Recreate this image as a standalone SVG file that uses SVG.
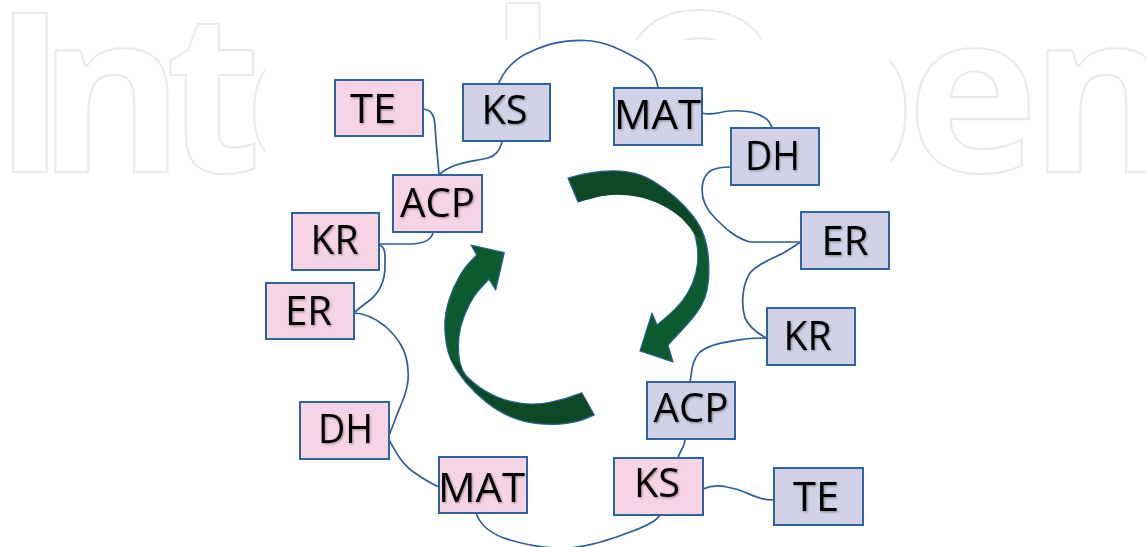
<svg xmlns="http://www.w3.org/2000/svg" width="1147" height="547" viewBox="0 0 1147 547">
  <defs>
    <style>
      .wm { font-family: "Open Sans", "DejaVu Sans", sans-serif; font-weight: 700; font-size: 222px; fill: none; stroke: #ebebeb; stroke-width: 2.2; }
      .box { stroke: #2c64a0; stroke-width: 2; }
      .pink { fill: #f6d4e4; }
      .lav { fill: #d1d2e8; }
      .lbl { font-family: "Open Sans", "Liberation Sans", sans-serif; font-size: 41px; fill: #000; text-anchor: middle; filter: url(#soft); }
      .link { fill: none; stroke: #2a5f9b; stroke-width: 1.7; stroke-linecap: round; stroke-linejoin: round; }
      .arrow { fill: #0b5b2f; stroke: #2a5f9b; stroke-width: 1.2; stroke-linejoin: round; }
      .arrow-back { fill: #0e4925; stroke: none; }
    </style>
    <filter id="soft" x="-10%" y="-20%" width="130%" height="150%">
      <feDropShadow dx="1" dy="1.2" stdDeviation="0.9" flood-color="#000" flood-opacity="0.35"/>
    </filter>
    <!-- the logotype only shows around the white panel -->
    <clipPath id="wm-left"><rect x="0" y="0" width="265" height="547"/></clipPath>
    <clipPath id="wm-top"><rect x="265" y="0" width="625" height="40"/></clipPath>
    <clipPath id="wm-right"><rect x="890" y="0" width="257" height="547"/></clipPath>
  </defs>

  <rect width="1147" height="547" fill="#ffffff"/>

  <!-- background logotype, outlined -->
  <g id="logotype">
    <text class="wm" clip-path="url(#wm-left)" x="-7 38 165 244" y="172">Inte</text>
    <text class="wm" clip-path="url(#wm-top)" x="375 489 611" y="172">chO</text>
    <text class="wm" clip-path="url(#wm-right)" x="775 907 1030" y="172">pen</text>
  </g>

  <!-- cycle arrows -->
  <g id="cycle-arrows">
    <g id="arrow-right">
      <path class="arrow" d="M568,178 L578,175.4 Q588,172.7 601.5,171.4 Q615,170 628.4,172 Q641.7,174 653.4,181.2 Q665,188.3 675.5,197.5 Q686,206.7 693.5,216.5 Q701,226.3 704.3,236.7 Q707.7,247 708.5,258.5 Q709.3,270 708.5,280 Q707.7,290 704.7,298.4 Q701.7,306.7 695,315 Q688.3,323.3 678.2,334.2 L668,345 L673,362 L640,351 L652,313 L657,325 L666,317.5 Q675,310 681.7,301.7 Q688.3,293.3 692.5,283.3 Q696.7,273.3 697.5,263.3 Q698.3,253.3 697,245 Q695.7,236.7 693.8,232.3 Q692,228 685.2,220.7 Q678.3,213.3 666.7,206.7 Q655,200 641.7,196.7 Q628.3,193.3 615,193.8 Q601.7,194.3 589.9,198.2 L578,202 Z"/>
      <path class="arrow-back" d="M569,178.6 L578,176.2 Q588,173.6 601.5,172.3 Q615,171 628.4,173 Q641.7,175 653,182 Q664.5,189 674.8,198 Q685,207 692.5,217 Q699.8,226.7 703.3,237.5 L697.2,236.5 L693.2,232.5 Q691.2,228.5 684.6,221.4 Q677.8,214.2 666.3,207.6 Q654.7,201 641.5,197.6 Q628.3,194.2 615,194.7 Q601.9,195.2 590.2,199 L578.6,201.2 Z"/>
    </g>
    <g id="arrow-left">
      <path class="arrow" d="M504.3,252.7 L471,245 L476.7,255 L470.9,260.9 Q465,266.7 459.2,276.7 Q453.3,286.7 449.5,298.4 Q445.7,310 445,320 Q444.3,330 446,341.7 Q447.7,353.3 452.3,362.5 Q457,371.7 466,382.5 Q475,393.3 486.7,402.5 Q498.3,411.7 511.7,417.2 Q525,422.7 540,423.9 Q555,425 566.7,423.4 Q578.3,421.7 586.3,418.4 L594.3,415 L581.7,392.7 L571.7,396.4 Q561.7,400 548.4,402.5 Q535,405 521.7,403.4 Q508.3,401.7 496.7,396.7 Q485,391.7 477,385.3 Q469,379 465.5,374.8 Q462,370.5 460.3,363.6 Q458.6,356.7 458.5,346.7 Q458.3,336.7 460.8,326.7 Q463.3,316.7 468.3,306.7 Q473.3,296.7 478.3,290.9 Q483.3,285 486.2,282.2 L489,279.3 L495.7,290 Z"/>
      <path class="arrow-back" d="M449.6,357.5 L453.2,362.5 Q458,371.5 466.7,382 Q475.6,392.4 487.2,401.5 Q498.8,410.7 512,416.2 Q525.2,421.8 540,422.9 Q555,424 566.5,422.4 Q578,420.8 585.8,417.6 L593.3,414.5 L582,393.6 L572,397.3 Q562,400.9 548.6,403.4 Q535,405.9 521.5,404.3 Q508,402.6 496.2,397.6 Q484.4,392.6 476.3,386 Q468.3,379.6 464.7,375.3 Q461.3,371 459.9,364.5 Z"/>
    </g>
  </g>

  <!-- connectors -->
  <g id="connectors">
    <path class="link" d="M498,86 C502,72 515,58 530,52 C545,45 560,40 585,40.5 C605,41 621,50 638,59 C651,66 656,74 658,88"/>
    <path class="link" d="M423,109 C431,110 434,114 435,125 C436,145 438,160 439,175"/>
    <path class="link" d="M502,142 C500,150 496,156 488,158 C475,161 462,162 451,167 C445,170 441,172 439,175"/>
    <path class="link" d="M433,232 C432,240 425,243 413,244 L380,244"/>
    <path class="link" d="M380,245 C386,248 385,256 385,266 C385,280 380,292 370,300 C362,306 357,310 354,313"/>
    <path class="link" d="M353,313 C362,313 372,316 385,326 C398,338 407,350 408,370 C410,390 400,405 395,420 C392,428 390,433 388,438"/>
    <path class="link" d="M388,438 C396,452 402,465 415,473 C425,480 432,484 439,487"/>
    <path class="link" d="M476,513 C480,525 492,535 510,540 C530,546 550,549 570,548 C590,546 610,540 630,532 C650,525 657,520 660,515"/>
    <path class="link" d="M678,458 C680,450 685,447 685,439"/>
    <path class="link" d="M703,489 C710,486 718,485 727,487 C740,489 750,495 760,498 C765,500 770,500 774,500"/>
    <path class="link" d="M690,382 C692,370 692,360 700,352 C710,344 725,342 745,339 C755,338 762,338 767,338"/>
    <path class="link" d="M767,338 C758,334 750,328 745,318 C741,305 742,285 750,273 C758,263 775,258 785,252 C792,248 797,244 801,242"/>
    <path class="link" d="M801,242 L750,242 C735,238 725,228 715,218 C705,208 700,195 703,182 C706,170 715,167 731,167"/>
    <path class="link" d="M702,113 C712,116 718,112 730,111 C745,110 758,113 765,118 C770,121 771,125 772,128"/>
  </g>

  <!-- module boxes, first chain (pink) -->
  <g id="p-te"><rect class="box pink" x="335" y="80" width="88" height="56"/><text class="lbl" x="373" y="123" textLength="46" lengthAdjust="spacingAndGlyphs">TE</text></g>
  <g id="p-acp"><rect class="box pink" x="393" y="175" width="89" height="57"/><text class="lbl" x="437.5" y="217" textLength="75" lengthAdjust="spacingAndGlyphs">ACP</text></g>
  <g id="p-kr"><rect class="box pink" x="292" y="213" width="87" height="57"/><text class="lbl" x="334.5" y="254" textLength="48" lengthAdjust="spacingAndGlyphs">KR</text></g>
  <g id="p-er"><rect class="box pink" x="266" y="283" width="88" height="56"/><text class="lbl" x="308.5" y="325" textLength="47" lengthAdjust="spacingAndGlyphs">ER</text></g>
  <g id="p-dh"><rect class="box pink" x="300" y="402" width="89" height="57"/><text class="lbl" x="345.5" y="443" textLength="55" lengthAdjust="spacingAndGlyphs">DH</text></g>
  <g id="p-mat"><rect class="box pink" x="439" y="457" width="88" height="56"/><text class="lbl" x="481.5" y="502" textLength="87" lengthAdjust="spacingAndGlyphs">MAT</text></g>
  <g id="p-ks"><rect class="box pink" x="614" y="458" width="89" height="57"/><text class="lbl" x="657" y="497" textLength="46" lengthAdjust="spacingAndGlyphs">KS</text></g>

  <!-- module boxes, second chain (lavender) -->
  <g id="l-ks"><rect class="box lav" x="463" y="84" width="87" height="57"/><text class="lbl" x="504.5" y="124" textLength="46" lengthAdjust="spacingAndGlyphs">KS</text></g>
  <g id="l-mat"><rect class="box lav" x="614" y="88" width="88" height="57"/><text class="lbl" x="657.5" y="129" textLength="87" lengthAdjust="spacingAndGlyphs">MAT</text></g>
  <g id="l-dh"><rect class="box lav" x="731" y="128" width="88" height="57"/><text class="lbl" x="772.5" y="170" textLength="55" lengthAdjust="spacingAndGlyphs">DH</text></g>
  <g id="l-er"><rect class="box lav" x="801" y="212" width="88" height="57"/><text class="lbl" x="845" y="255" textLength="47" lengthAdjust="spacingAndGlyphs">ER</text></g>
  <g id="l-kr"><rect class="box lav" x="767" y="308" width="88" height="57"/><text class="lbl" x="807.5" y="350" textLength="48" lengthAdjust="spacingAndGlyphs">KR</text></g>
  <g id="l-acp"><rect class="box lav" x="647" y="382" width="88" height="57"/><text class="lbl" x="691" y="422" textLength="75" lengthAdjust="spacingAndGlyphs">ACP</text></g>
  <g id="l-te"><rect class="box lav" x="774" y="468" width="89" height="57"/><text class="lbl" x="816" y="511" textLength="46" lengthAdjust="spacingAndGlyphs">TE</text></g>
</svg>
